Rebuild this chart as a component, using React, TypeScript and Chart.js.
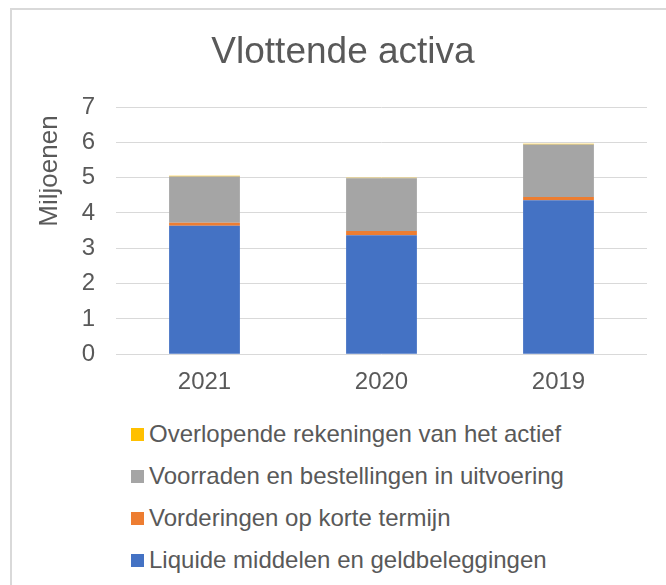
import React, { useEffect, useRef } from "react";
import { Chart, registerables } from "chart.js";

Chart.register(...registerables);

const chartTitle = "Vlottende activa";
const yAxisTitle = "Miljoenen";
const categories = ["2021", "2020", "2019"];
const liquideMiddelen = [3.64, 3.37, 4.36];
const vorderingen = [0.08, 0.12, 0.09];
const voorraden = [1.31, 1.49, 1.49];
const overlopende = [0.02, 0.02, 0.02];
const seriesNames = [
  "Liquide middelen en geldbeleggingen",
  "Vorderingen op korte termijn",
  "Voorraden en bestellingen in uitvoering",
  "Overlopende rekeningen van het actief",
];
const seriesColors = ["#4472C4", "#ED7D31", "#A5A5A5", "#FFC000"];
const yMin = 0;
const yMax = 7;
const yStep = 1;

const FONT = '"Liberation Sans", Arial, sans-serif';
const TEXT = "#595959";

const axisTitlePlugin = {
  id: "axisTitle",
  afterDraw(chart: any) {
    const ctx = chart.ctx;
    ctx.save();
    ctx.fillStyle = TEXT;
    ctx.font = `26px ${FONT}`;
    ctx.textAlign = "center";
    ctx.textBaseline = "middle";
    ctx.translate(11, chart.chartArea.top + 64);
    ctx.rotate(-Math.PI / 2);
    ctx.fillText(yAxisTitle, 0, 0);
    ctx.restore();
  },
};

export default function App() {
  const ref = useRef<HTMLCanvasElement>(null);
  useEffect(() => {
    if (!ref.current) return;
    const values = [liquideMiddelen, vorderingen, voorraden, overlopende];
    const chart = new Chart(ref.current, {
      type: "bar",
      data: {
        labels: categories,
        datasets: values.map((v, i) => ({
          label: seriesNames[i],
          data: v,
          backgroundColor: seriesColors[i],
          borderWidth: 0,
          barPercentage: 0.4,
          categoryPercentage: 1.0,
        })),
      },
      options: {
        responsive: false,
        animation: false,
        layout: { padding: { left: 0, right: 19, top: 0, bottom: 4 } },
        plugins: {
          legend: { display: false },
          tooltip: { enabled: false },
          title: {
            display: true,
            text: chartTitle,
            color: TEXT,
            font: { family: FONT, size: 37, weight: "normal" },
            padding: { top: 30.3, bottom: 32.3 },
          },
        },
        scales: {
          x: {
            stacked: true,
            grid: { display: false, drawTicks: false },
            border: { display: false },
            ticks: { color: TEXT, font: { family: FONT, size: 24 }, padding: 14, maxRotation: 0 },
          },
          y: {
            stacked: true,
            min: yMin,
            max: yMax,
            ticks: { stepSize: yStep, color: TEXT, font: { family: FONT, size: 24 }, padding: 21 },
            grid: { color: "#d9d9d9", lineWidth: 1, drawTicks: false },
            border: { display: false },
            afterFit: (s: any) => {
              s.width = 77;
            },
          },
        },
      } as any,
      plugins: [axisTitlePlugin],
    });
    return () => chart.destroy();
  }, []);

  const legendOrder = [3, 2, 1, 0];
  return (
    <div
      style={{
        position: "fixed",
        left: 0,
        top: 0,
        width: 666,
        height: 585,
        overflow: "hidden",
        background: "#fff",
      }}
    >
      <div
        style={{
          position: "absolute",
          left: 10,
          top: 8,
          width: 720,
          height: 640,
          border: "2px solid #d9d9d9",
          boxSizing: "border-box",
        }}
      />
      <canvas
        ref={ref}
        width={627}
        height={415}
        style={{ position: "absolute", left: 39, top: 0, width: 627, height: 415 }}
      />
      {legendOrder.map((idx, row) => (
        <div
          key={idx}
          style={{
            position: "absolute",
            left: 131,
            top: 420 + row * 42,
            height: 28,
            display: "flex",
            alignItems: "center",
            fontFamily: FONT,
            fontSize: 24,
            lineHeight: "28px",
            color: TEXT,
            whiteSpace: "nowrap",
          }}
        >
          <span
            style={{
              display: "inline-block",
              width: 13,
              height: 13,
              background: seriesColors[idx],
              marginRight: 5,
            }}
          />
          <span>{seriesNames[idx]}</span>
        </div>
      ))}
    </div>
  );
}
